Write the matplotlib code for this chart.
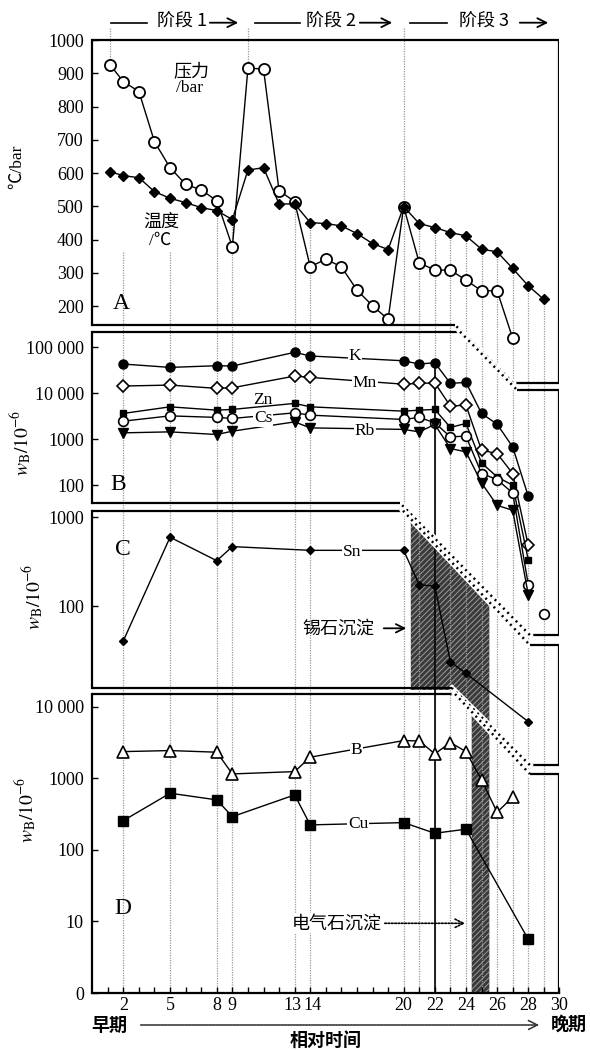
import matplotlib

matplotlib.use("Agg")
import matplotlib.pyplot as plt
import matplotlib.transforms as mtransforms
from matplotlib.patches import Polygon
from matplotlib.ticker import NullLocator

plt.rcParams["font.family"] = ["Liberation Serif", "Noto Sans CJK SC"]
plt.rcParams["mathtext.fontset"] = "stix"
plt.rcParams["hatch.linewidth"] = 0.7
CJK = ["Noto Sans CJK SC", "DejaVu Sans"]

W, H = 590, 1050
X0, X1 = 92.2, 559.4  # pixel columns of t=0 and t=30

# ---- panel A: temperature / pressure
xA_T = [1.15, 2, 3, 4, 5, 6, 7, 8, 9, 10, 11, 12, 13, 14, 15, 16, 17, 18, 19, 20,
        21, 22, 23, 24, 25, 26, 27, 28, 29]
temp = [604, 592, 586, 544, 524, 511, 496, 487, 460, 609, 616, 507, 507, 451, 448,
        441, 418, 388, 370, 499, 448, 436, 421, 411, 371, 363, 313, 261, 220]
xA_P = [1.15, 2, 3, 4, 5, 6, 7, 8, 9, 10, 11, 12, 13, 14, 15, 16, 17, 18, 19, 20,
        21, 22, 23, 24, 25, 26, 27]
pres = [925, 875, 845, 694, 616, 566, 549, 517, 378, 915, 913, 547, 514, 318, 341,
        318, 248, 201, 160, 499, 330, 308, 308, 278, 246, 246, 103]

# ---- panel B: K, Mn, Zn, Cs, Rb (10^-6)
xB = [2, 5, 8, 9, 13, 14, 20, 21, 22, 23, 24, 25, 26, 27, 28]
K = [43300, 36600, 39800, 39200, 77900, 64800, 51000, 43300, 46300, 16400, 17300,
     3650, 2130, 683, 57.5]
Mn = [14400, 15100, 12800, 13200, 23700, 22200, 15800, 16400, 16900, 5260, 5530,
      578, 490, 180, 4.9]
Zn = [3650, 5080, 4300, 4460, 6030, 5080, 4090, 4300, 4460, 1810, 2210, 306, 152,
      100, 2.4]
Cs = [2480, 3230, 2990, 2840, 3760, 3350, 2700, 2990, 2280, 1130, 1170, 180, 133,
      68, 0.69]
Rb = [1380, 1450, 1270, 1500, 2390, 1770, 1640, 1450, 2100, 630, 532, 112, 36.6,
      28.5, 0.42]
x_lone, v_lone = [29], [0.155]

# ---- panel C: Sn
xSn = [2, 5, 8, 9, 14, 20, 21, 22, 23, 24, 28]
Sn = [40.6, 596, 324, 467, 424, 424, 173, 168, 23.5, 17.4, 4.97]

# ---- panel D: B, Cu
xBo = [2, 5, 8, 9, 13, 14, 20, 21, 22, 23, 24, 25, 26, 27]
Bo = [2370, 2450, 2325, 1155, 1245, 1980, 3380, 3340, 2200, 3170, 2370, 953, 337, 546]
xCu = [2, 5, 8, 9, 13, 14, 20, 22, 24, 28]
Cu = [257, 621, 501, 292, 588, 224, 241, 171, 195, 5.64]

XLABELS = [2, 5, 8, 9, 13, 14, 20, 22, 24, 26, 28, 30]
GUIDE_X = [2, 5, 8, 9, 13, 14, 20, 21, 22, 23, 24, 25, 26, 27, 28, 29]
STAGE_X = [1.15, 10, 20]

fig = plt.figure(figsize=(W / 100, H / 100), dpi=100)
pix = mtransforms.Affine2D().scale(1 / W, -1 / H).translate(0, 1) + fig.transFigure

# overlay in (time, pixel-from-top) for frames, guides and shading
ov = fig.add_axes([X0 / W, 0, (X1 - X0) / W, 1], zorder=0)
ov.set_xlim(0, 30)
ov.set_ylim(H, 0)
ov.axis("off")


def panel(top, bottom, ylim, log=False):
    ax = fig.add_axes([X0 / W, 1 - bottom / H, (X1 - X0) / W, (bottom - top) / H], zorder=2)
    ax.patch.set_alpha(0)
    ax.set_xlim(0, 30)
    if log:
        ax.set_yscale("log")
    ax.set_ylim(*ylim)
    for s in ["top", "right", "bottom"]:
        ax.spines[s].set_visible(False)
    ax.spines["left"].set_linewidth(1.6)
    ax.tick_params(axis="y", which="both", direction="in", length=4, width=1, pad=6, labelsize=13)
    ax.yaxis.set_minor_locator(NullLocator())
    ax.set_xticks([])
    return ax


axA = panel(40, 325, (143, 1000))
axB = panel(331.7, 503, (10 ** 1.614, 10 ** 5.34), log=True)
axC = panel(510.7, 688, (10 ** 1.076, 10 ** 3.074), log=True)
axD = panel(694, 993, (1, 10 ** 4.18), log=True)

axA.set_yticks(range(200, 1001, 100))
axB.set_yticks([100, 1000, 10000, 100000], ["100", "1000", "10 000", "100 000"])
axC.set_yticks([100, 1000], ["100", "1000"])
axD.set_yticks([1, 10, 100, 1000, 10000], ["0", "10", "100", "1000", "10 000"])

axD.spines["bottom"].set_visible(True)
axD.spines["bottom"].set_linewidth(1.6)
axD.set_xticks(XLABELS, [str(v) for v in XLABELS])
axD.set_xticks([v for v in range(1, 30) if v not in XLABELS], minor=True)
axD.tick_params(axis="x", which="both", direction="in", length=4, width=1, pad=3, labelsize=13)
# "13" and "14" sit almost touching in the original; nudge them apart a little
for lab, v in zip(axD.get_xticklabels(), XLABELS):
    if v == 13:
        lab.set_transform(lab.get_transform() + mtransforms.ScaledTranslation(-2.5 / 100, 0, fig.dpi_scale_trans))
    elif v == 14:
        lab.set_transform(lab.get_transform() + mtransforms.ScaledTranslation(2.5 / 100, 0, fig.dpi_scale_trans))

line = dict(color="black", lw=1.0, clip_on=False)
axA.plot(xA_P, pres, marker="o", ms=8, mfc="white", mew=1.3, **line)
axA.plot(xA_T, temp, marker="D", ms=4.8, **line)

axB.plot(xB, K, marker="o", ms=6.5, **line)
axB.plot(xB, Mn, marker="D", ms=6.3, mfc="white", mew=1.2, **line)
axB.plot(xB, Zn, marker="s", ms=5, **line)
axB.plot(xB, Cs, marker="o", ms=7, mfc="white", mew=1.2, **line)
axB.plot(xB, Rb, marker="v", ms=7, **line)
axB.plot(x_lone, v_lone, ls="none", marker="o", ms=7, mfc="white", mew=1.2, color="black", clip_on=False)

axC.plot(xSn, Sn, marker="D", ms=4.5, **line)

axD.plot(xBo, Bo, marker="^", ms=8, mfc="white", mew=1.2, **line)
axD.plot(xCu, Cu, marker="s", ms=6.5, **line)


def ypix(ax, x, v):
    return H - ax.transData.transform((x, v))[1]


# cassiterite / tourmaline shading
shade = Polygon([(20.46, 521), (25.5, 603), (25.5, 993), (24.37, 993), (24.37, 714),
                 (23.1, 690), (20.46, 690)],
                closed=True, facecolor="#3a3a3a", edgecolor="#9a9a9a", hatch="//////", lw=0)
ov.add_patch(shade)

# dotted sample guides
guide = dict(color="#9a9a9a", lw=0.9, ls=(0, (1, 1)))
for x in GUIDE_X:
    if x == 20:
        y0 = 28
    elif x in (2, 5):
        y0 = 252
    else:
        vals = [v for xs, vs in ((xA_T, temp), (xA_P, pres)) for xx, v in zip(xs, vs) if xx == x]
        y0 = min(ypix(axA, x, v) for v in vals) + 4
    ov.plot([x, x], [y0, 993], **guide)
for x in STAGE_X[:2]:
    v = pres[xA_P.index(x)]
    ov.plot([x, x], [28, ypix(axA, x, v) - 5], **guide)

# solid marker line at t=22
ov.plot([22, 22], [ypix(axB, 22, K[xB.index(22)]), 993], color="black", lw=1.2)

# panel frames
solid = dict(color="black", lw=1.6, solid_capstyle="butt")


def dots(p, q):
    ov.plot([p[0], q[0]], [p[1], q[1]], color="white", lw=4)
    ov.plot([p[0], q[0]], [p[1], q[1]], color="black", lw=1.8, ls=(0, (0.8, 1.6)))


ov.plot([0, 30, 30, 27.02], [40, 40, 383, 383], **solid)
dots((27.02, 383), (23.3, 325))
ov.plot([23.3, 0], [325, 325], **solid)

ov.plot([0, 23.62], [331.7, 331.7], **solid)
dots((23.62, 331.7), (27.28, 390))
ov.plot([27.28, 30, 30, 28.1], [390, 390, 635, 635], **solid)
dots((28.1, 635), (19.76, 503))
ov.plot([19.76, 0], [503, 503], **solid)

ov.plot([0, 19.96], [510.7, 510.7], **solid)
dots((19.96, 510.7), (28.1, 645))
ov.plot([28.1, 30, 30, 28.1], [645, 645, 765, 765], **solid)
dots((28.1, 765), (23.1, 688))
ov.plot([23.1, 0], [688, 688], **solid)

ov.plot([0, 23.3], [694, 694], **solid)
dots((23.3, 694), (28.1, 774))
ov.plot([28.1, 30, 30], [774, 774, 993], **solid)

# header stages
for x_line, x_text, x_arrow, label in [
    ((111, 147), 182, (207, 241), "阶段 1"),
    ((255, 300), 331, (357, 395), "阶段 2"),
    ((410, 447), 484, (517, 551), "阶段 3"),
]:
    fig.add_artist(plt.Line2D(x_line, [22.7, 22.7], color="black", lw=1.2, transform=pix))
    fig.text(x_text, 22, label, transform=pix, ha="center", va="center", fontsize=13,
             family=CJK)
    fig.add_artist(matplotlib.patches.FancyArrowPatch(
        (x_arrow[0], 22.7), (x_arrow[1], 22.7), transform=pix, arrowstyle="->",
        mutation_scale=16, lw=1.3, color="black"))

# in-panel labels
fig.text(191.7, 71.7, "压力", transform=pix, ha="center", va="center", fontsize=13, family=CJK)
fig.text(189, 88.5, "/bar", transform=pix, ha="center", va="center", fontsize=12.5)
fig.text(161, 221.7, "温度", transform=pix, ha="center", va="center", fontsize=13, family=CJK)
fig.text(160, 241, "/℃", transform=pix, ha="center", va="center", fontsize=12.5)

for x, y, s in [(121, 303.3, "A"), (118.3, 484, "B"), (123.3, 549.3, "C"), (123.3, 908.3, "D")]:
    fig.text(x, y, s, transform=pix, ha="center", va="center", fontsize=17)

box = dict(facecolor="white", edgecolor="none", pad=0.6)
for x, y, s, b in [(355, 356, "K", True), (365, 383.3, "Mn", True), (263.3, 400, "Zn", False),
                   (263.3, 418.3, "Cs", True), (365, 431, "Rb", True), (351.7, 552.3, "Sn", True),
                   (356.7, 750, "B", True), (358.3, 824, "Cu", True)]:
    fig.text(x, y, s, transform=pix, ha="center", va="center", fontsize=12.5,
             bbox=box if b else None, zorder=5)

fig.text(16.7, 166.7, "℃/bar", transform=pix, ha="center", va="center", fontsize=12.5,
         rotation=90)
for x, y in [(21.7, 443), (33.3, 596.7), (26.7, 810)]:
    fig.text(x, y, r"$w_{\rm B}/10^{-6}$", transform=pix, ha="center", va="center",
             fontsize=14, rotation=90)

# precipitation notes
fig.text(374, 628.3, "锡石沉淀", transform=pix, ha="right", va="center", fontsize=13, family=CJK)
fig.add_artist(matplotlib.patches.FancyArrowPatch(
    (381, 628.3), (409, 628.3), transform=pix, arrowstyle="->", mutation_scale=15,
    lw=1.3, color="black"))
fig.text(336.7, 923.3, "电气石沉淀", transform=pix, ha="center", va="center", fontsize=13,
         family=CJK, bbox=box, zorder=5)
fig.add_artist(matplotlib.patches.FancyArrowPatch(
    (382, 923.3), (468, 923.3), transform=pix, arrowstyle="->", mutation_scale=15,
    lw=1.2, color="black", linestyle=(0, (1, 1))))

# time axis arrow
fig.text(109, 1025, "早期", transform=pix, ha="center", va="center", fontsize=13,
         family=CJK, weight="bold")
fig.text(569, 1024, "晚期", transform=pix, ha="center", va="center", fontsize=13,
         family=CJK, weight="bold")
fig.text(326, 1040, "相对时间", transform=pix, ha="center", va="center", fontsize=13,
         family=CJK, weight="bold")
fig.add_artist(matplotlib.patches.FancyArrowPatch(
    (138, 1025), (542, 1025), transform=pix, arrowstyle="->", mutation_scale=16,
    lw=1.2, color="#333333", linestyle=(0, (1, 0.8))))

fig.savefig("out.png", dpi=100)
